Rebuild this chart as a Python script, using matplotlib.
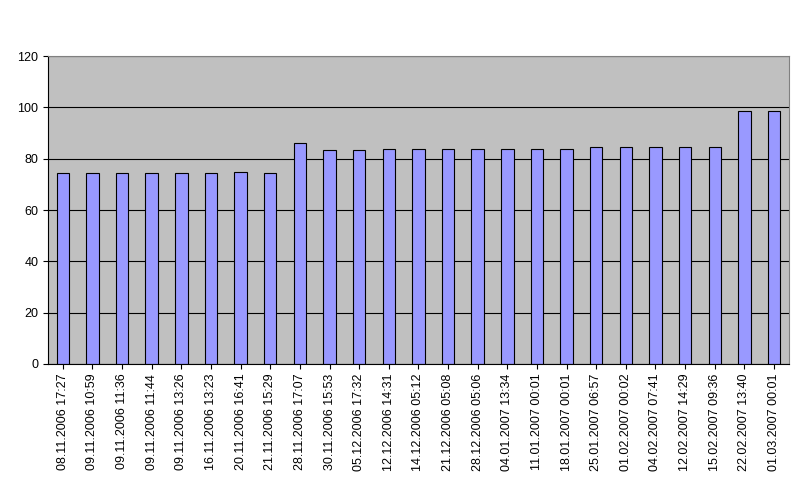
import matplotlib
matplotlib.use("Agg")
import matplotlib.pyplot as plt

plt.rcParams['font.family'] = ['Liberation Sans', 'DejaVu Sans']

dates = ['08.11.2006 17:27', '09.11.2006 10:59', '09.11.2006 11:36', '09.11.2006 11:44',
         '09.11.2006 13:26', '16.11.2006 13:23', '20.11.2006 16:41', '21.11.2006 15:29',
         '28.11.2006 17:07', '30.11.2006 15:53', '05.12.2006 17:32', '12.12.2006 14:31',
         '14.12.2006 05:12', '21.12.2006 05:08', '28.12.2006 05:06', '04.01.2007 13:34',
         '11.01.2007 00:01', '18.01.2007 00:01', '25.01.2007 06:57', '01.02.2007 00:02',
         '04.02.2007 07:41', '12.02.2007 14:29', '15.02.2007 09:36', '22.02.2007 13:40',
         '01.03.2007 00:01']
values = [74.5, 74.5, 74.5, 74.5, 74.5, 74.5, 75, 74.5, 86, 83.5, 83.5, 84, 84, 84, 84,
          84, 84, 84, 84.5, 84.5, 84.5, 84.5, 84.5, 98.5, 98.5]

fig = plt.figure(figsize=(7.92, 4.93), dpi=100)
ax = fig.add_axes([0.0606, 0.2617, 0.9354, 0.6243])
ax.set_facecolor('#C0C0C0')
ax.set_axisbelow(True)
ax.grid(axis='y', color='black', linewidth=0.8)
x = range(len(dates))
ax.bar(x, values, width=0.42, color='#9999FF', edgecolor='black', linewidth=0.8)
ax.set_xlim(-0.5, len(dates) - 0.5)
ax.set_ylim(0, 120)
ax.set_yticks(range(0, 121, 20))
ax.set_xticks(list(x))
ax.set_xticklabels(dates, rotation=90, fontsize=9)
ax.tick_params(axis='y', labelsize=9)
for s in ['top', 'right']:
    ax.spines[s].set_color('#808080')
fig.savefig('out.png', dpi=100)
